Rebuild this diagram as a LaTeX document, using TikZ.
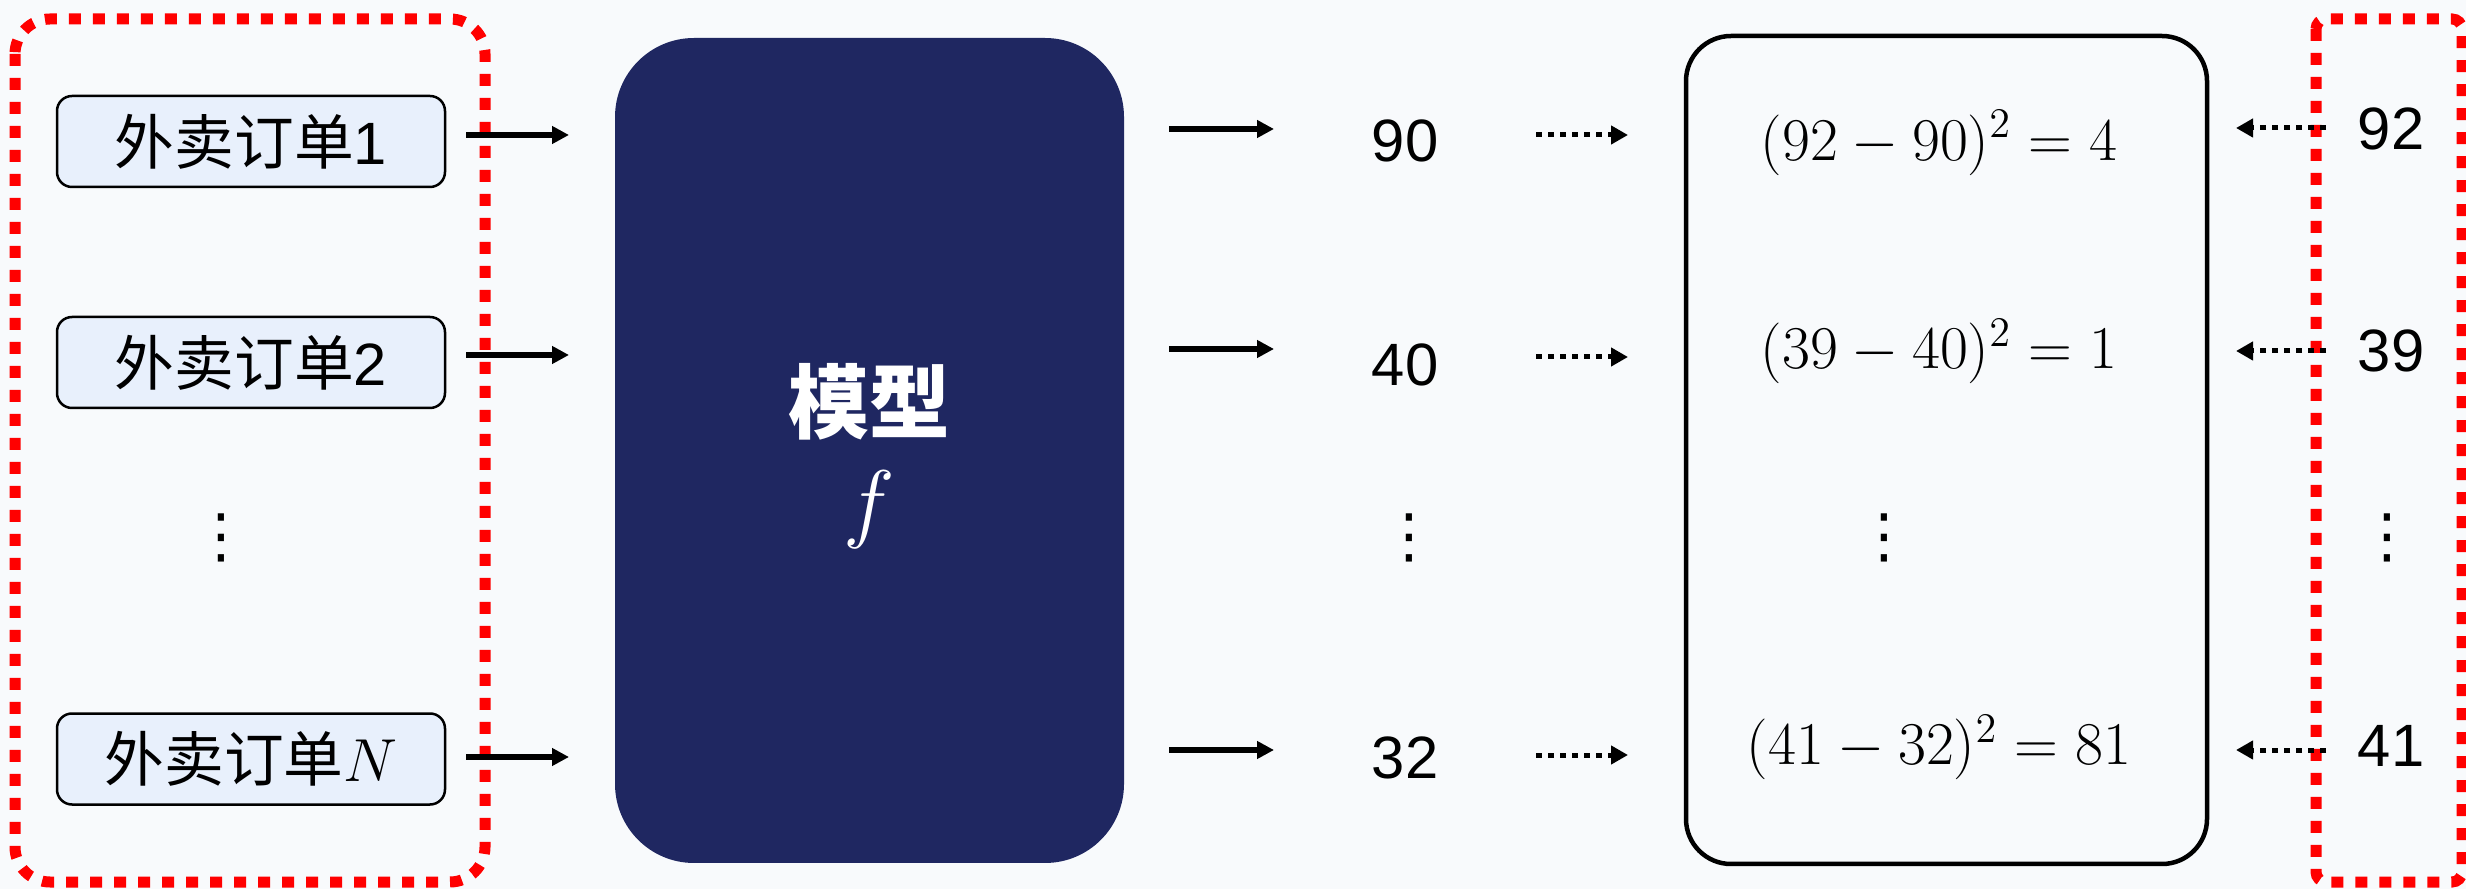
\documentclass[tikz,border=0pt]{standalone}
\usepackage{fontspec}
\setmainfont{Liberation Sans}
\newfontfamily\cjk{Noto Sans CJK SC}
\newfontfamily\dejavu{DejaVu Sans}
\usetikzlibrary{arrows.meta}
\definecolor{bgc}{RGB}{248,250,252}
\definecolor{navy}{RGB}{31,39,97}
\definecolor{inboxc}{RGB}{232,240,252}
\definecolor{redd}{RGB}{255,0,0}
\tikzset{
  reddot/.style={draw=redd, line width=1.1mm, dash pattern=on 1.2mm off 1.2mm},
  inbox/.style={draw=black, line width=0.25mm, fill=inboxc, rounded corners=1.5mm,
    minimum width=38.8mm, minimum height=9.1mm, inner sep=0pt, font=\fontsize{17}{20}\selectfont},
  modelbox/.style={fill=navy, rounded corners=7.9mm, minimum width=50.9mm, minimum height=82.5mm, inner sep=0pt},
  resbox/.style={draw=black, line width=0.45mm, rounded corners=4.5mm, minimum width=52.1mm, minimum height=82.8mm, inner sep=0pt},
  num/.style={inner sep=0pt, font=\fontsize{17}{20}\selectfont},
  fml/.style={inner sep=0pt, font=\fontsize{17.5}{20}\selectfont},
  vd/.style={inner sep=0pt, font=\dejavu\fontsize{17}{20}\selectfont},
  arr/.style={-{Triangle[length=1.7mm,width=1.7mm]}, line width=0.55mm},
  darr/.style={-{Triangle[length=1.7mm,width=1.8mm]}, line width=0.5mm, dash pattern=on 0.6mm off 0.6mm}
}
\begin{document}
\begin{tikzpicture}[x=0.1mm,y=-0.1mm]
\fill[bgc] (0,0) rectangle (2466,889);
\useasboundingbox (0,0) rectangle (2466,889);

% left group
\draw[reddot, rounded corners=3.5mm] (15,19) rectangle (485,882);
\node[inbox] (in1) at (251,141.5) {{\cjk 外卖订单}1};
\node[inbox] (in2) at (251,362.5) {{\cjk 外卖订单}2};
\node[inbox] (inN) at (251,759) {{\cjk 外卖订单}$N$};
\node[vd] (d1) at (221,538) {⋮};

% model
\node[modelbox] (model) at (869.5,450.5) {};
\node[text=white, inner sep=0pt, font=\cjk\bfseries\fontsize{23}{28}\selectfont] (mname) at (869,402) {模型};
\node[text=white, inner sep=0pt, font=\fontsize{26}{30}\selectfont] (mf) at (869,510) {$f$};

% input arrows
\coordinate (ia1) at (466,135); \coordinate (ib1) at (569,135);
\coordinate (ia2) at (466,355); \coordinate (ib2) at (569,355);
\coordinate (ia3) at (466,757); \coordinate (ib3) at (569,757);
\draw[arr] (ia1) -- (ib1);
\draw[arr] (ia2) -- (ib2);
\draw[arr] (ia3) -- (ib3);

% outputs
\node[num] (o1) at (1405,141) {90};
\node[num] (o2) at (1405,365) {40};
\node[num] (o3) at (1405,758) {32};
\node[vd] (d2) at (1409,538) {⋮};
\coordinate (oa1) at (1169,129); \coordinate (ob1) at (1274,129);
\coordinate (oa2) at (1169,349); \coordinate (ob2) at (1274,349);
\coordinate (oa3) at (1169,750); \coordinate (ob3) at (1274,750);
\draw[arr] (oa1) -- (ob1);
\draw[arr] (oa2) -- (ob2);
\draw[arr] (oa3) -- (ob3);

% dotted arrows to loss box
\coordinate (pa1) at (1536,135); \coordinate (pb1) at (1628,135);
\coordinate (pa2) at (1536,357); \coordinate (pb2) at (1628,357);
\coordinate (pa3) at (1536,755); \coordinate (pb3) at (1628,755);
\draw[darr] (pa1) -- (pb1);
\draw[darr] (pa2) -- (pb2);
\draw[darr] (pa3) -- (pb3);

% loss box
\node[resbox] (res) at (1946.5,450) {};
\node[fml] (e1) at (1939,143) {$(92-90)^2=4$};
\node[fml] (e2) at (1939,351) {$(39-40)^2=1$};
\node[fml] (e3) at (1939,747) {$(41-32)^2=81$};
\node[vd] (d3) at (1884,538) {⋮};

% targets
\draw[reddot, rounded corners=1mm] (2316,19) rectangle (2462,882);
\node[num] (t1) at (2391,129) {92};
\node[num] (t2) at (2391,351) {39};
\node[num] (t3) at (2391,746) {41};
\node[vd] (d4) at (2387,538) {⋮};
\coordinate (ta1) at (2326,128); \coordinate (tb1) at (2236,128);
\coordinate (ta2) at (2326,351); \coordinate (tb2) at (2236,351);
\coordinate (ta3) at (2326,750); \coordinate (tb3) at (2236,750);
\draw[darr] (ta1) -- (tb1);
\draw[darr] (ta2) -- (tb2);
\draw[darr] (ta3) -- (tb3);
\end{tikzpicture}
\end{document}
